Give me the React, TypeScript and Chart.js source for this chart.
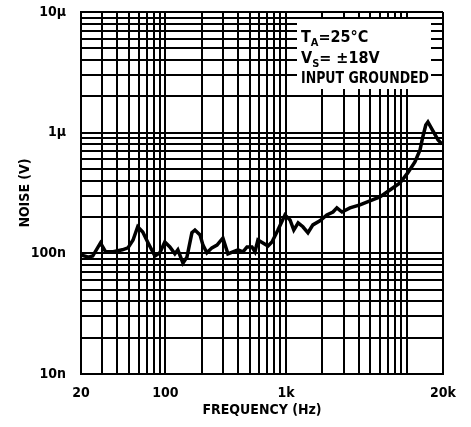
import React, { useEffect, useRef } from 'react';
import { Chart, registerables } from 'chart.js';

Chart.register(...registerables);

// Frequency (Hz) of each traced point of the noise curve
const frequencyHz = [
  20, 23, 25, 29, 32, 37, 44, 49, 54, 59, 65, 72, 82, 90, 99, 109, 120, 127, 140, 151,
  166, 176, 194, 205, 221, 243, 268, 300, 330, 363, 400, 440, 475, 522, 553, 585, 644, 709, 765, 857,
  980, 1080, 1160, 1260, 1380, 1520, 1670, 1910, 2180, 2450, 2640, 2910, 3390, 4100, 4960, 6000, 7260, 8790,
  10200, 11700, 12900, 13600, 14400, 15000, 16500, 18200, 19600,
];
// Noise (nV) at each frequency above
const noiseNanoVolts = [
  97, 93, 95, 122, 103, 103, 107, 111, 129, 166, 150, 122, 95, 101, 124, 113, 99, 107, 83, 93,
  148, 156, 142, 117, 101, 111, 117, 134, 99, 103, 107, 103, 113, 113, 103, 129, 122, 115, 124, 156,
  208, 189, 156, 179, 166, 148, 172, 186, 208, 220, 238, 220, 238, 252, 272, 293, 335, 383,
  464, 572, 719, 921, 1158, 1226, 1033, 870, 806,
];

const xMin = 20;
const xMax = 20000;
const yMin = 1e-8;
const yMax = 1e-5;
const xTickValues = [20, 100, 1000, 20000];
const xTickLabels = ['20', '100', '1k', '20k'];
const yTickValues = [1e-8, 1e-7, 1e-6, 1e-5];
const yTickLabels = ['10n', '100n', '1µ', '10µ'];
const xTitle = 'FREQUENCY (Hz)';
const yTitle = 'NOISE (V)';
// Annotation lines, each made of [text, isSubscript] segments
const annotationLines: Array<Array<[string, boolean]>> = [
  [['T', false], ['A', true], ['=25°C', false]],
  [['V', false], ['S', true], ['= ±18V', false]],
  [['INPUT GROUNDED', false]],
];

const FONT = '"Liberation Sans Narrow", "Arial Narrow", "DejaVu Sans Condensed", "Liberation Sans", sans-serif';

function logGridTicks(min: number, max: number) {
  const out: { value: number }[] = [];
  const e0 = Math.floor(Math.log10(min) + 1e-9);
  const e1 = Math.ceil(Math.log10(max) - 1e-9);
  for (let e = e0; e <= e1; e++) {
    for (let m = 1; m <= 9; m++) {
      const v = m * Math.pow(10, e);
      if (v >= min * 0.9999 && v <= max * 1.0001) out.push({ value: v });
    }
  }
  return out;
}

function labelFor(value: number, values: number[], labels: string[]) {
  for (let i = 0; i < values.length; i++) {
    if (Math.abs(Math.log10(value / values[i])) < 1e-6) return labels[i];
  }
  return '';
}

const annotationPlugin = {
  id: 'annotationBox',
  beforeDatasetsDraw(chart: any) {
    const { ctx, chartArea } = chart;
    ctx.save();
    ctx.fillStyle = '#fff';
    ctx.fillRect(chartArea.right - 146, chartArea.top + 7, 134, 70);
    ctx.restore();
  },
  afterDatasetsDraw(chart: any) {
    const { ctx, chartArea } = chart;
    ctx.save();
    ctx.fillStyle = '#000';
    ctx.textBaseline = 'alphabetic';
    const x0 = chartArea.right - 142;
    const baselines = [chartArea.top + 30, chartArea.top + 51, chartArea.top + 71];
    annotationLines.forEach((segs, li) => {
      let x = x0;
      const by = baselines[li];
      segs.forEach(([text, sub]) => {
        ctx.font = sub ? `bold 11px ${FONT}` : `bold 16px ${FONT}`;
        const y = sub ? by + 4 : by;
        if (li === 2) {
          ctx.fillText(text, x, y, 128);
          x += Math.min(128, ctx.measureText(text).width);
        } else {
          ctx.fillText(text, x, y);
          x += ctx.measureText(text).width;
        }
      });
    });
    ctx.restore();
  },
};

export default function App() {
  const ref = useRef<HTMLCanvasElement | null>(null);

  useEffect(() => {
    if (!ref.current) return;
    const points = frequencyHz.map((f, i) => ({ x: f, y: noiseNanoVolts[i] * 1e-9 }));
    const tickFont = { family: FONT, size: 14, weight: 'bold' as const };
    const chart = new Chart(ref.current, {
      type: 'line',
      data: {
        datasets: [
          {
            data: points,
            borderColor: '#000',
            borderWidth: 3.5,
            pointRadius: 0,
            tension: 0,
            fill: false,
          },
        ],
      },
      options: {
        animation: false,
        responsive: false,
        devicePixelRatio: 1,
        layout: { padding: { top: 12, right: 28, left: 0, bottom: 0 } },
        plugins: { legend: { display: false }, tooltip: { enabled: false } },
        scales: {
          x: {
            type: 'logarithmic',
            min: xMin,
            max: xMax,
            afterBuildTicks: (s: any) => {
              s.ticks = logGridTicks(xMin, xMax);
            },
            afterFit: (s: any) => {
              s.height = 53;
              s.paddingLeft = 0;
              s.paddingRight = 0;
            },
            ticks: {
              autoSkip: false,
              maxRotation: 0,
              minRotation: 0,
              padding: 11,
              color: '#000',
              font: tickFont,
              callback: (v: any) => labelFor(Number(v), xTickValues, xTickLabels),
            },
            grid: { color: '#000', lineWidth: 2, drawTicks: false },
            border: { color: '#000', width: 2 },
            title: {
              display: true,
              text: xTitle,
              color: '#000',
              font: { family: FONT, size: 14, weight: 'bold' },
              padding: { top: 0, bottom: 8 },
            },
          },
          y: {
            type: 'logarithmic',
            min: yMin,
            max: yMax,
            afterBuildTicks: (s: any) => {
              s.ticks = logGridTicks(yMin, yMax);
            },
            afterFit: (s: any) => {
              s.width = 81;
              s.paddingTop = 0;
              s.paddingBottom = 0;
            },
            ticks: {
              autoSkip: false,
              padding: 15,
              color: '#000',
              font: tickFont,
              callback: (v: any) => labelFor(Number(v), yTickValues, yTickLabels),
            },
            grid: { color: '#000', lineWidth: 2, drawTicks: false },
            border: { color: '#000', width: 2 },
            title: {
              display: true,
              text: yTitle,
              color: '#000',
              font: { family: FONT, size: 14, weight: 'bold' },
              padding: { top: 17, bottom: 0 },
            },
          },
        },
      },
      plugins: [annotationPlugin],
    });
    return () => chart.destroy();
  }, []);

  return (
    <div style={{ position: 'fixed', left: 0, top: 0, width: 471, height: 427, background: '#fff' }}>
      <canvas ref={ref} width={471} height={427} style={{ display: 'block' }} />
    </div>
  );
}
